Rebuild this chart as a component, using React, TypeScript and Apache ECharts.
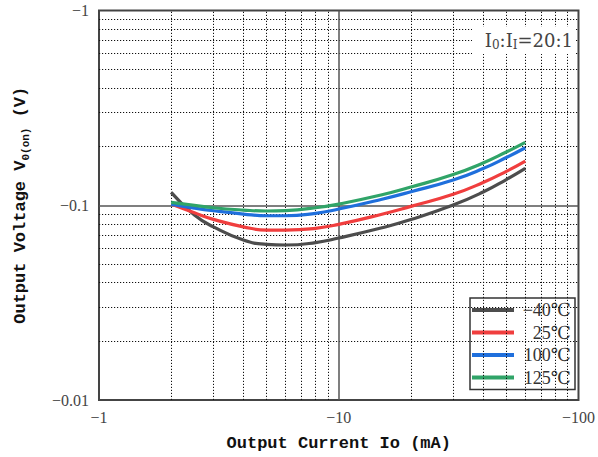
import React, { useEffect, useRef } from 'react';
import * as echarts from 'echarts';

// Output current magnitude (mA), axis shows negative values
const currents = [2, 2.5, 3, 4, 5, 6, 8, 10, 15, 20, 30, 40, 50, 60];
// Output voltage magnitude (V)
const vM40 = [0.1165, 0.0891, 0.0775, 0.0663, 0.0630, 0.0625, 0.0643, 0.0679, 0.0764, 0.0844, 0.1002, 0.1169, 0.1355, 0.1547];
const v25 = [0.1014, 0.0914, 0.0846, 0.0775, 0.0746, 0.0746, 0.0761, 0.0798, 0.0897, 0.0987, 0.1138, 0.1308, 0.1493, 0.1687];
const v100 = [0.1014, 0.0967, 0.0937, 0.0901, 0.0883, 0.0883, 0.0909, 0.0956, 0.1071, 0.1173, 0.1347, 0.1543, 0.1758, 0.1974];
const v125 = [0.1035, 0.0999, 0.0971, 0.0945, 0.0934, 0.0939, 0.0971, 0.1014, 0.1128, 0.1240, 0.1438, 0.1648, 0.1877, 0.2104];

const seriesNames = ['−40℃', '25℃', '100℃', '125℃'];
const seriesColors = ['#4d4d4d', '#f03e3e', '#1f6fdc', '#30a468'];

const xMinor = [2, 3, 4, 5, 6, 7, 8, 9, 20, 30, 40, 50, 60, 70, 80, 90];
const yMinor = [0.02, 0.03, 0.04, 0.05, 0.06, 0.07, 0.08, 0.09, 0.2, 0.3, 0.4, 0.5, 0.6, 0.7, 0.8, 0.9];
const xMajor = [10];
const yMajor = [0.1];

export default function App() {
  const ref = useRef<HTMLDivElement>(null);
  useEffect(() => {
    const chart = echarts.init(ref.current!, null, { renderer: 'svg' });
    const mono = "'Liberation Mono', 'DejaVu Sans Mono', monospace";
    const serif = "'Liberation Serif', 'DejaVu Serif', serif";
    const wideSerif = "'DejaVu Serif', 'Liberation Serif', serif";
    const fmt = (v: number) => '−' + String(Number(Number(v).toPrecision(3)));

    const dotted = { color: '#111', width: 1, type: [1.2, 1.8] as any };
    const solid = { color: '#555', width: 1.5, type: 'solid' as any };

    const dataSeries = [vM40, v25, v100, v125].map((vals, i) => ({
      name: seriesNames[i],
      type: 'line',
      data: currents.map((c, j) => [c, vals[j]]),
      smooth: 0.5,
      symbol: 'none',
      showSymbol: false,
      lineStyle: { width: 3.2, color: seriesColors[i] },
      itemStyle: { color: seriesColors[i] },
      z: 5,
    }));

    const gridSeries = {
      name: 'gridlines',
      type: 'line',
      data: [],
      silent: true,
      z: 1,
      markLine: {
        silent: true,
        symbol: 'none',
        animation: false,
        label: { show: false },
        data: [
          ...xMinor.map((v) => ({ xAxis: v, lineStyle: dotted })),
          ...yMinor.map((v) => ({ yAxis: v, lineStyle: dotted })),
          ...xMajor.map((v) => ({ xAxis: v, lineStyle: solid })),
          ...yMajor.map((v) => ({ yAxis: v, lineStyle: solid })),
        ],
      },
    };

    chart.setOption({
      animation: false,
      backgroundColor: '#fff',
      grid: {
        left: 99,
        top: 10.5,
        right: 15,
        bottom: 57,
        show: true,
        borderColor: '#444',
        borderWidth: 2,
        backgroundColor: 'transparent',
      },
      xAxis: {
        type: 'log',
        logBase: 10,
        min: 1,
        max: 100,
        axisLine: { show: false },
        axisTick: { show: false },
        splitLine: { show: false },
        axisLabel: {
          formatter: fmt,
          fontFamily: serif,
          fontSize: 16,
          color: '#444',
          margin: 9,
          showMinLabel: true,
          showMaxLabel: true,
        },
        name: 'Output Current Io (mA)',
        nameLocation: 'middle',
        nameGap: 35,
        nameTextStyle: { fontFamily: mono, fontWeight: 'bold', fontSize: 17, color: '#111' },
      },
      yAxis: {
        type: 'log',
        logBase: 10,
        min: 0.01,
        max: 1,
        axisLine: { show: false },
        axisTick: { show: false },
        splitLine: { show: false },
        axisLabel: {
          formatter: fmt,
          fontFamily: serif,
          fontSize: 16,
          color: '#444',
          margin: 10,
          padding: [4, 0, 0, 0],
          showMinLabel: true,
          showMaxLabel: true,
        },
        name: '{a|Output Voltage V}{s|0(on)}{a| (V)}',
        nameLocation: 'middle',
        nameGap: 68,
        nameTextStyle: {
          rich: {
            a: { fontFamily: mono, fontWeight: 'bold', fontSize: 17, color: '#111', lineHeight: 22 },
            s: { fontFamily: mono, fontWeight: 'bold', fontSize: 11, color: '#111', lineHeight: 14, verticalAlign: 'bottom' },
          },
        },
      },
      legend: {
        data: seriesNames,
        orient: 'vertical',
        left: 470,
        top: 298,
        icon: 'rect',
        itemWidth: 42,
        itemHeight: 4,
        itemGap: 2.5,
        padding: [2, 4, 2, 2],
        backgroundColor: '#fff',
        borderColor: '#333',
        borderWidth: 1.5,
        borderRadius: 0,
        formatter: (name: string) => '{t|' + name + '}',
        textStyle: {
          fontFamily: serif,
          fontSize: 18,
          color: '#333',
          lineHeight: 20,
          rich: {
            t: { width: 52, align: 'right', fontFamily: serif, fontSize: 18, color: '#333', lineHeight: 20 },
          },
        },
      },
      graphic: [
        {
          type: 'rect',
          shape: { x: 472, y: 27, width: 104, height: 27 },
          style: { fill: '#fff' },
          z: 10,
        },
        {
          type: 'text',
          x: 573,
          y: 29,
          z: 11,
          style: {
            text: '{i|I}{s|0}{i|:I}{s|I}{i|=20:1}',
            align: 'right',
            rich: {
              i: { fontFamily: wideSerif, fontSize: 18, fill: '#444', lineHeight: 22 },
              s: { fontFamily: wideSerif, fontSize: 12, fill: '#444', lineHeight: 13, verticalAlign: 'bottom' },
            },
          },
        },
      ],
      series: [gridSeries, ...dataSeries],
    });
    return () => chart.dispose();
  }, []);
  return <div ref={ref} style={{ position: 'fixed', left: 0, top: 0, width: 598, height: 457 }} />;
}
